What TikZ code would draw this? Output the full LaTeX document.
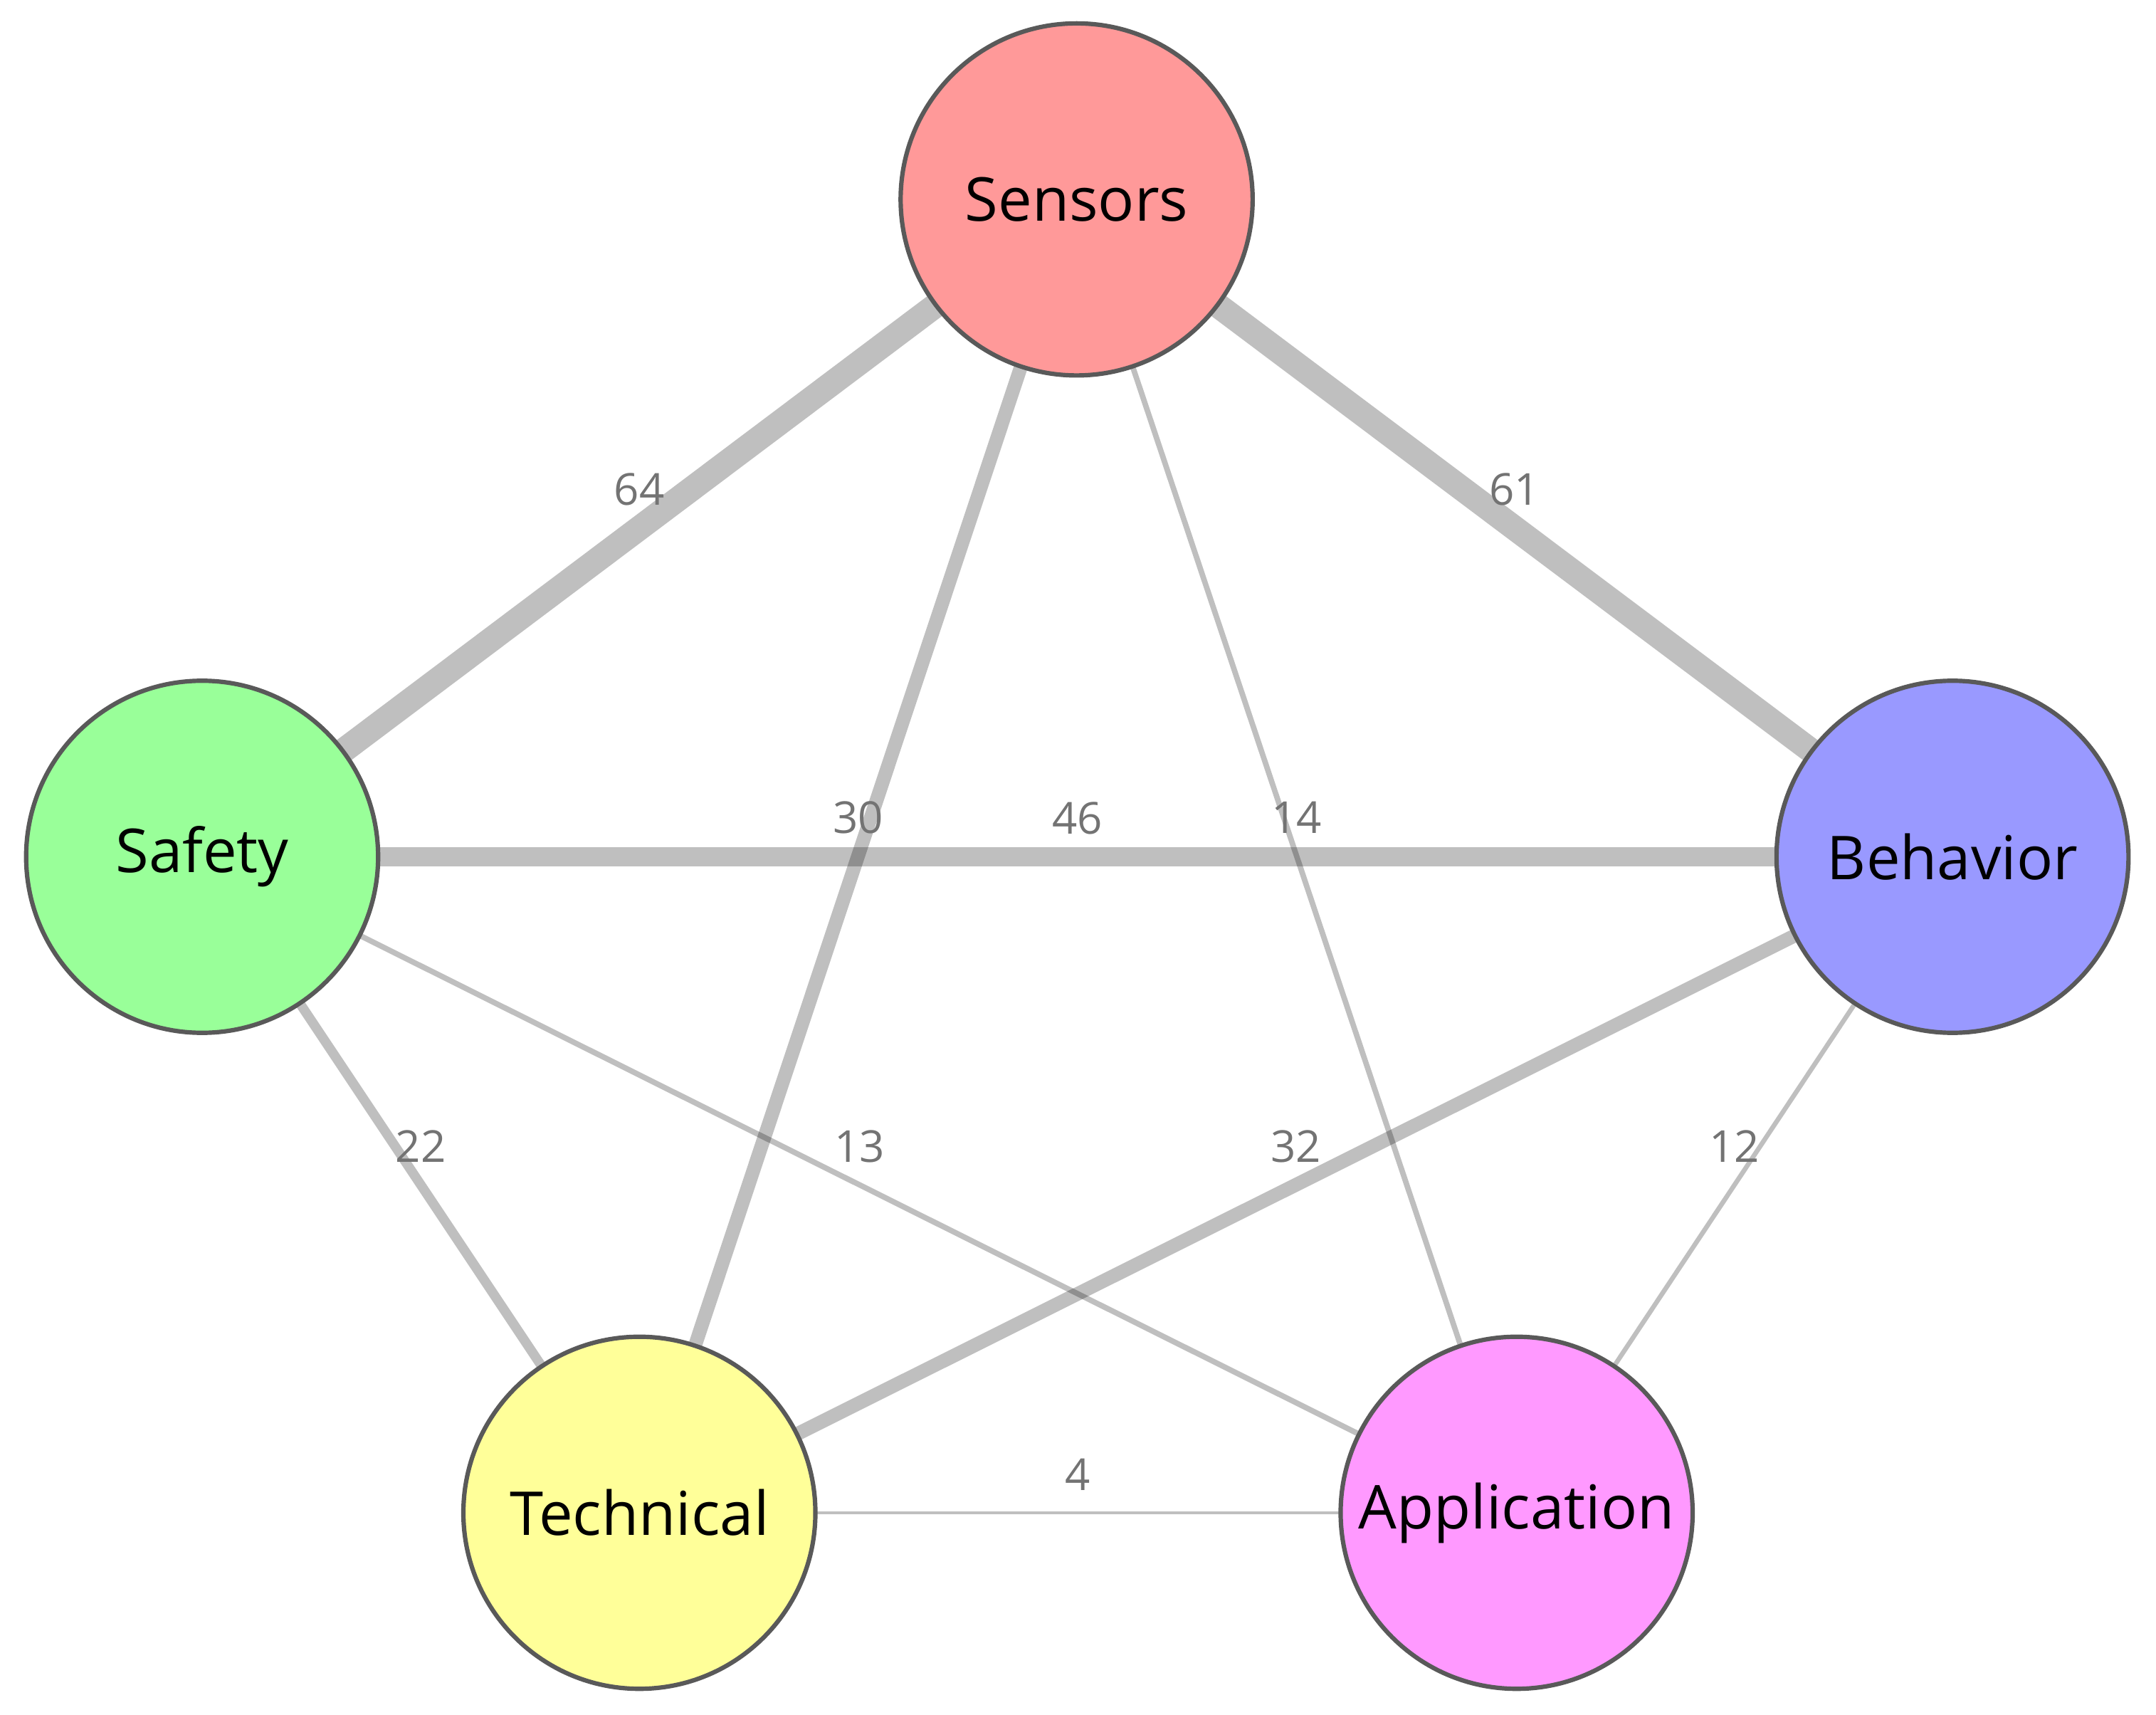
\documentclass[tikz,border=0pt]{standalone}
\usepackage{fontspec}
\setmainfont{Open Sans}
\begin{document}
\begin{tikzpicture}[x=0.5pt,y=-0.5pt,
  nd/.style={circle,draw=black!65,line width=1.6pt,minimum size=128pt,inner sep=0pt,font=\fontsize{22}{26}\selectfont},
  ed/.style={draw=black,draw opacity=0.25},
  lb/.style={midway,yshift=14pt,text=black!55,font=\fontsize{16}{19}\selectfont}]
\useasboundingbox (0,0) rectangle (1568,1247);
\coordinate (cS) at (783,145);
\coordinate (cF) at (147,623);
\coordinate (cB) at (1420,623);
\coordinate (cT) at (465,1100);
\coordinate (cA) at (1103,1100);
\draw[ed,line width=9pt] (cS) -- node[lb]{64} (cF);
\draw[ed,line width=9pt] (cS) -- node[lb]{61} (cB);
\draw[ed,line width=5pt] (cS) -- node[lb]{30} (cT);
\draw[ed,line width=2pt] (cS) -- node[lb]{14} (cA);
\draw[ed,line width=7pt] (cF) -- node[lb]{46} (cB);
\draw[ed,line width=3.5pt] (cF) -- node[lb]{22} (cT);
\draw[ed,line width=2pt] (cF) -- node[lb]{13} (cA);
\draw[ed,line width=5pt] (cB) -- node[lb]{32} (cT);
\draw[ed,line width=1.7pt] (cB) -- node[lb]{12} (cA);
\draw[ed,line width=1.2pt] (cT) -- node[lb]{4} (cA);
\node[nd,fill={rgb,255:red,255;green,153;blue,153}] (S) at (cS) {Sensors};
\node[nd,fill={rgb,255:red,153;green,255;blue,153}] (F) at (cF) {Safety};
\node[nd,fill={rgb,255:red,153;green,153;blue,255}] (B) at (cB) {Behavior};
\node[nd,fill={rgb,255:red,255;green,255;blue,153}] (T) at (cT) {Technical};
\node[nd,fill={rgb,255:red,255;green,153;blue,255}] (A) at (cA) {Application};
\end{tikzpicture}
\end{document}
